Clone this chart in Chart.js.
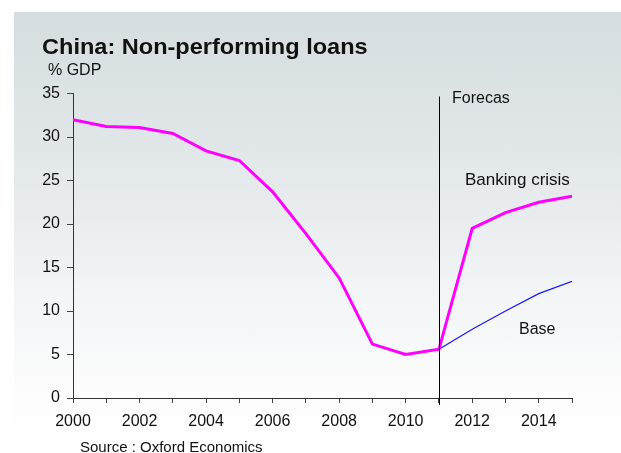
<!DOCTYPE html>
<html>
<head>
<meta charset="utf-8">
<script src="https://cdn.jsdelivr.net/npm/chart.js@4/dist/chart.umd.min.js"></script>
<style>
  html, body { margin: 0; padding: 0; background: #ffffff; }
  #wrap { position: relative; width: 621px; height: 453px; overflow: hidden; font-family: "Liberation Sans", Arial, sans-serif; color: #111; }
  #panel { position: absolute; left: 14px; top: 12px; right: 0; bottom: 0;
    background: linear-gradient(to bottom, #d5dde0 0%, #e3e8ea 35%, #f3f5f6 65%, #fdfdfd 88%, #ffffff 100%); }
  canvas { position: absolute; left: 0; top: 0; }
  .t { position: absolute; white-space: nowrap; line-height: 1; }
</style>
</head>
<body>
<div id="wrap">
  <div id="panel"></div>
  <canvas id="c" width="621" height="453"></canvas>
  <div class="t" style="left:42px; top:36.4px; font-size:22px; font-weight:bold; transform:scaleX(1.07); transform-origin:left;">China: Non-performing loans</div>
  <div class="t" style="left:48px; top:61.5px; font-size:16px;">% GDP</div>
  <div class="t" style="left:452px; top:89.8px; font-size:16px;">Forecas</div>
  <div class="t" style="left:465px; top:170.6px; font-size:17px;">Banking crisis</div>
  <div class="t" style="left:519px; top:320.8px; font-size:16px;">Base</div>
  <div class="t" style="left:80px; top:438.8px; font-size:15px;">Source : Oxford Economics</div>
</div>
<script>
const years = [2000, 2001, 2002, 2003, 2004, 2005, 2006, 2007, 2008, 2009, 2010, 2011, 2012, 2013, 2014, 2015];
const bankingCrisis = [32.0, 31.2, 31.1, 30.4, 28.4, 27.3, 23.7, 18.9, 13.8, 6.2, 5.0, 5.6, 19.5, 21.3, 22.5, 23.2];
const baseCase = [null, null, null, null, null, null, null, null, null, null, null, 5.6, 7.9, 10.0, 12.0, 13.4];
const forecastStart = 2011;
const yTicks = [0, 5, 10, 15, 20, 25, 30, 35];

const toPoints = arr => years.map((x, i) => ({ x: x, y: arr[i] }));

const forecastLine = {
  id: 'forecastLine',
  afterDatasetsDraw(chart) {
    const ctx = chart.ctx;
    const xs = chart.scales.x;
    const ca = chart.chartArea;
    const px = Math.round(xs.getPixelForValue(forecastStart)) + 0.5;
    ctx.save();
    ctx.strokeStyle = '#000';
    ctx.lineWidth = 1;
    ctx.beginPath();
    ctx.moveTo(px, ca.top + 3);
    ctx.lineTo(px, ca.bottom + 7);
    ctx.stroke();
    ctx.restore();
  }
};

new Chart(document.getElementById('c'), {
  type: 'line',
  data: {
    datasets: [
      { label: 'Banking crisis', data: toPoints(bankingCrisis), borderColor: '#ff00ff', borderWidth: 3, pointRadius: 0, tension: 0, fill: false },
      { label: 'Base', data: toPoints(baseCase), borderColor: '#1a1aff', borderWidth: 1.3, pointRadius: 0, tension: 0, fill: false, spanGaps: false }
    ]
  },
  options: {
    responsive: false,
    animation: false,
    devicePixelRatio: 1,
    layout: { padding: { top: 93.5, right: 49, left: 0, bottom: 0 } },
    plugins: { legend: { display: false }, title: { display: false }, tooltip: { enabled: false } },
    scales: {
      x: {
        type: 'linear', min: 2000, max: 2015,
        afterFit: s => { s.height = 55; },
        grid: { drawOnChartArea: false, drawTicks: true, tickLength: 5, color: '#444', lineWidth: 1 },
        border: { display: true, color: '#333', width: 1 },
        ticks: {
          stepSize: 1, autoSkip: false, maxRotation: 0, padding: 9,
          color: '#111', font: { family: '"Liberation Sans", Arial, sans-serif', size: 16 },
          callback: v => (v % 2 === 0 && v < 2015) ? String(v) : ''
        }
      },
      y: {
        min: 0, max: 35,
        afterFit: s => { s.width = 73; },
        afterBuildTicks: s => { s.ticks = yTicks.map(v => ({ value: v })); },
        grid: { drawOnChartArea: false, drawTicks: true, tickLength: 6, color: '#444', lineWidth: 1 },
        border: { display: true, color: '#333', width: 1 },
        ticks: {
          padding: 7, color: '#111', font: { family: '"Liberation Sans", Arial, sans-serif', size: 16 },
          callback: v => String(v)
        }
      }
    }
  },
  plugins: [forecastLine]
});
</script>
</body>
</html>
